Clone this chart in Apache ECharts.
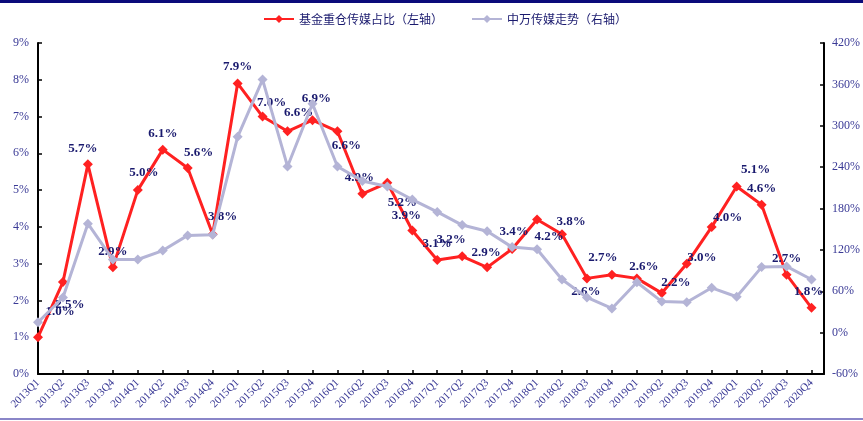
<!DOCTYPE html>
<html><head><meta charset="utf-8">
<script src="https://cdn.jsdelivr.net/npm/echarts@6/dist/echarts.min.js"></script>
<style>html,body{margin:0;padding:0;background:#fff}#c{width:863px;height:421px}</style>
</head><body><div id="c"></div>
<script>
const categories = ['2013Q1','2013Q2','2013Q3','2013Q4','2014Q1','2014Q2','2014Q3','2014Q4','2015Q1','2015Q2','2015Q3','2015Q4','2016Q1','2016Q2','2016Q3','2016Q4','2017Q1','2017Q2','2017Q3','2017Q4','2018Q1','2018Q2','2018Q3','2018Q4','2019Q1','2019Q2','2019Q3','2019Q4','2020Q1','2020Q2','2020Q3','2020Q4'];
const fundShare = [1.0,2.5,5.7,2.9,5.0,6.1,5.6,3.8,7.9,7.0,6.6,6.9,6.6,4.9,5.2,3.9,3.1,3.2,2.9,3.4,4.2,3.8,2.6,2.7,2.6,2.2,3.0,4.0,5.1,4.6,2.7,1.8];
const mediaIndex = [15,51,158,106,106,119,141,142,284,367,241,332,241,220,212,193,175,156,147,124,121,77,51,35,73,45,44,65,52,95,96,77];
const leftTicks = {min:0, max:9, interval:1};
const rightTicks = {min:-60, max:420, interval:60};
const seriesNames = ['基金重仓传媒占比（左轴）','中万传媒走势（右轴）'];
// label offsets (style only)
const labelOffsets = [[22,-26],[7,23],[-5,-16],[0,-16],[6,-17],[0,-16],[11,-15],[10,-18],[0,-17],[9,-14],[11,-19],[4,-22],[9,14],[-3,-16],[15,20],[-6,-15],[0,-16],[-11,-17],[-1,-15],[2,-17],[12,17],[9,-13],[-1,13],[-9,-17],[7,-12],[14,-10],[15,-6],[16,-9],[19,-17],[0,-16],[0,-16],[-3,-16]];

const navy = '#1a1a6e', axisTxt = '#3a3a96';
const chart = echarts.init(document.getElementById('c'), null, {renderer:'canvas'});
const redData = fundShare.map((v,i)=>({value:[i,v], label:{offset:labelOffsets[i]}}));
const grayData = mediaIndex.map((v,i)=>[i,v]);
chart.setOption({
  animation:false,
  backgroundColor:'#fff',
  graphic:[
    {type:'rect', shape:{x:0,y:0,width:863,height:3}, style:{fill:'#0b0b7a'}},
    {type:'rect', shape:{x:0,y:418,width:863,height:2}, style:{fill:'#8a86c8'}}
  ],
  legend:{
    top:8, left:258, itemGap:28, itemWidth:30, itemHeight:10,
    textStyle:{fontFamily:'Noto Sans CJK SC', fontSize:12, color:navy},
    data:[seriesNames[0], seriesNames[1]]
  },
  grid:{left:38, right:38, top:43, bottom:47, containLabel:false},
  xAxis:{
    type:'value', min:0, max:31.5, interval:1,
    axisLine:{show:true, lineStyle:{color:'#000', width:2}},
    axisTick:{show:true, inside:true, length:4, lineStyle:{color:'#000', width:1.5}},
    splitLine:{show:false},
    axisLabel:{rotate:45, fontFamily:'Liberation Serif', fontSize:11, color:axisTxt, margin:7,
      formatter:v=> Number.isInteger(v) && categories[v] ? categories[v] : '', showMaxLabel:false}
  },
  yAxis:[
    {type:'value', min:leftTicks.min, max:leftTicks.max, interval:leftTicks.interval, position:'left',
     axisLine:{show:true, lineStyle:{color:'#000', width:2}},
     axisTick:{show:true, inside:true, length:4, lineStyle:{color:'#000', width:1.5}},
     splitLine:{show:false},
     axisLabel:{formatter:'{value}%', fontFamily:'Liberation Serif', fontSize:12, color:axisTxt, margin:9}},
    {type:'value', min:rightTicks.min, max:rightTicks.max, interval:rightTicks.interval, position:'right',
     axisLine:{show:true, lineStyle:{color:'#000', width:2}},
     axisTick:{show:true, inside:true, length:4, lineStyle:{color:'#000', width:1.5}},
     splitLine:{show:false},
     axisLabel:{formatter:'{value}%', fontFamily:'Liberation Serif', fontSize:12, color:axisTxt, margin:8}}
  ],
  series:[
    {name:seriesNames[0], type:'line', yAxisIndex:0, data:redData, z:3,
     symbol:'diamond', symbolSize:10,
     lineStyle:{color:'#ff2121', width:3}, itemStyle:{color:'#ff2121'},
     label:{show:true, position:'inside', formatter:p=>p.value[1].toFixed(1)+'%',
       fontFamily:'Liberation Serif', fontWeight:'bold', fontSize:13, color:navy}},
    {name:seriesNames[1], type:'line', yAxisIndex:1, data:grayData, z:4,
     symbol:'diamond', symbolSize:10,
     lineStyle:{color:'#b4b4d6', width:3}, itemStyle:{color:'#b4b4d6'}}
  ]
});
</script></body></html>
